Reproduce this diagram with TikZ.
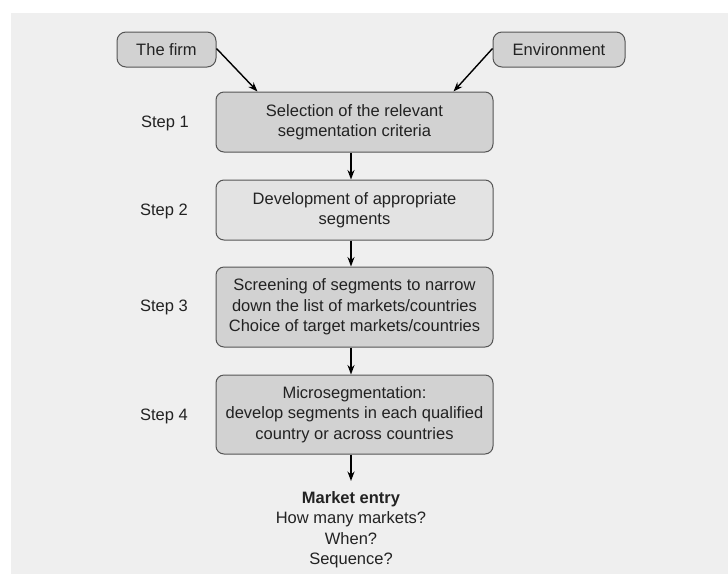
\documentclass[tikz,border=0pt]{standalone}
\usepackage{fontspec}
\setmainfont{Liberation Sans}
\usetikzlibrary{arrows.meta,calc}
\definecolor{bg}{HTML}{EFEFEF}
\definecolor{edge}{HTML}{555555}
\definecolor{txt}{HTML}{222222}
\definecolor{fillA}{HTML}{D2D2D2}
\definecolor{fillB}{HTML}{E3E3E3}
\begin{document}
\begin{tikzpicture}[x=1pt,y=-1pt,
  box/.style={draw=edge,line width=1pt,rounded corners=8pt,fill=fillA,
    minimum width=277pt,inner sep=0pt,align=center,text=txt,
    font=\fontsize{16.5}{20.5}\selectfont},
  src/.style={draw=edge,line width=1pt,rounded corners=9pt,fill=fillA,
    inner sep=0pt,minimum height=35pt,text=txt,font=\fontsize{16.5}{20.5}\selectfont},
  steplabel/.style={text=txt,font=\fontsize{16.5}{20.5}\selectfont},
  arr/.style={-{Stealth[length=9.5pt,width=7pt]},line width=1.4pt,black}]
\useasboundingbox (0,0) rectangle (728,574);
\fill[bg] (11,13) rectangle (728,574);

\node[src,minimum width=99pt] (firm) at (166.5,49.5) {The firm};
\node[src,minimum width=132pt] (env) at (559,49.5) {Environment};

\node[box,minimum height=60pt] (s1) at (354.5,122) {Selection of the relevant\\segmentation criteria};
\node[box,minimum height=60pt,fill=fillB] (s2) at (354.5,210) {Development of appropriate\\segments};
\node[box,minimum height=80pt] (s3) at (354.5,307) {Screening of segments to narrow\\down the list of markets/countries\\Choice of target markets/countries};
\node[box,minimum height=79pt] (s4) at (354.5,414.5) {Microsegmentation:\\develop segments in each qualified\\country or across countries};

\node[steplabel] (l1) at (165,123) {Step 1};
\node[steplabel] (l2) at (164,211) {Step 2};
\node[steplabel] (l3) at (164,307) {Step 3};
\node[steplabel] (l4) at (164,416) {Step 4};

\node[anchor=north,align=center,text=txt,inner sep=0pt,
  font=\fontsize{16.5}{20.5}\selectfont] (me) at (351,491)
  {\textbf{Market entry}\\How many markets?\\When?\\Sequence?};

\coordinate (ax) at (351,0);
\coordinate (t1) at ($(s1.north west)+(42,0)$);
\coordinate (t2) at ($(s1.north east)+(-40,0)$);

\draw[arr] (firm.east) ++(0,-1) -- (t1);
\draw[arr] (env.west) ++(0,-1) -- (t2);
\draw[arr] (s1.south -| ax) -- (s2.north -| ax);
\draw[arr] (s2.south -| ax) -- (s3.north -| ax);
\draw[arr] (s3.south -| ax) -- (s4.north -| ax);
\draw[arr] (s4.south -| ax) -- ($(me.north)+(0,-10)$);
\end{tikzpicture}
\end{document}
